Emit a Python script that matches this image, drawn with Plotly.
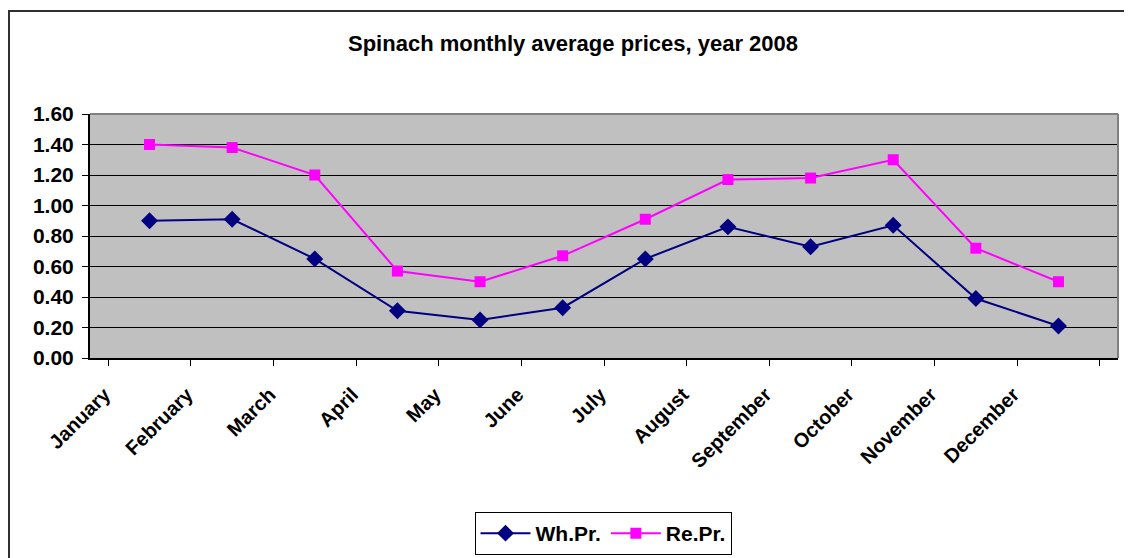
import plotly.graph_objects as go

months = ["January", "February", "March", "April", "May", "June", "July",
          "August", "September", "October", "November", "December"]
wh_pr = [0.90, 0.91, 0.65, 0.31, 0.25, 0.33, 0.65, 0.86, 0.73, 0.87, 0.39, 0.21]
re_pr = [1.40, 1.38, 1.20, 0.57, 0.50, 0.67, 0.91, 1.17, 1.18, 1.30, 0.72, 0.50]
y_ticks = [0.0, 0.2, 0.4, 0.6, 0.8, 1.0, 1.2, 1.4, 1.6]

FONT = "Arial, Liberation Sans, sans-serif"
OFF = 8  # page body margin
W, H = 1132 - OFF, 558 - OFF
# plot area in page coordinates: x 90..1118, y 114..358
L = 90 - OFF
R = W - (1118 - OFF)
T = 114 - OFF
B = H - (358 - OFF)
pw, ph = W - L - R, H - T - B

def px_x(x):
    return (x - OFF - L) / pw

def px_y(y):
    return (H - B - (y - OFF)) / ph

fig = go.Figure()
fig.add_trace(go.Scatter(
    x=months, y=wh_pr, name="Wh.Pr.", mode="lines+markers",
    line=dict(color="#000080", width=2),
    marker=dict(symbol="diamond", size=13, color="#000080"),
))
fig.add_trace(go.Scatter(
    x=months, y=re_pr, name="Re.Pr.", mode="lines+markers",
    line=dict(color="#FF00FF", width=2),
    marker=dict(symbol="square", size=11, color="#FF00FF"),
))

fig.update_layout(
    width=W, height=H,
    margin=dict(l=L, r=R, t=T, b=B, autoexpand=False),
    paper_bgcolor="white",
    plot_bgcolor="#C0C0C0",
    font=dict(family=FONT, color="black"),
    showlegend=True,
    legend=dict(
        orientation="h", x=px_x(603), y=px_y(512), xanchor="center", yanchor="top",
        bordercolor="black", borderwidth=1, bgcolor="white",
        itemwidth=50,
        font=dict(size=21, family=FONT, weight="bold"),
    ),
    xaxis=dict(
        type="category", tickson="boundaries", ticks="outside", ticklen=6,
        tickcolor="black", showline=True, linecolor="black", linewidth=2,
        showgrid=False, tickangle=-45,
        ticklabelshift=-45, ticklabelstandoff=15,
        tickfont=dict(size=20, family=FONT, weight="bold"),
    ),
    yaxis=dict(
        range=[0, 1.6], tickvals=y_ticks, tickformat=".2f",
        ticks="outside", ticklen=6, tickcolor="black",
        showline=True, linecolor="black", linewidth=2,
        showgrid=True, gridcolor="black", gridwidth=1,
        zeroline=False, ticklabelstandoff=4,
        tickfont=dict(size=21, family=FONT, weight="bold"),
    ),
    shapes=[
        dict(type="line", xref="paper", yref="paper", x0=0, x1=1, y0=1, y1=1,
             line=dict(color="#808080", width=2)),
        dict(type="line", xref="paper", yref="paper", x0=1, x1=1, y0=0, y1=1,
             line=dict(color="#808080", width=2)),
        dict(type="rect", xref="paper", yref="paper",
             x0=px_x(9), x1=px_x(1145), y0=px_y(575), y1=px_y(11),
             line=dict(color="#303030", width=2), layer="below"),
    ],
    annotations=[
        dict(text="Spinach monthly average prices, year 2008", xref="paper", yref="paper",
             x=px_x(573), y=px_y(43), xanchor="center", yanchor="middle",
             showarrow=False, font=dict(size=22, family=FONT, weight="bold")),
    ],
)

fig.write_html("out.html")
